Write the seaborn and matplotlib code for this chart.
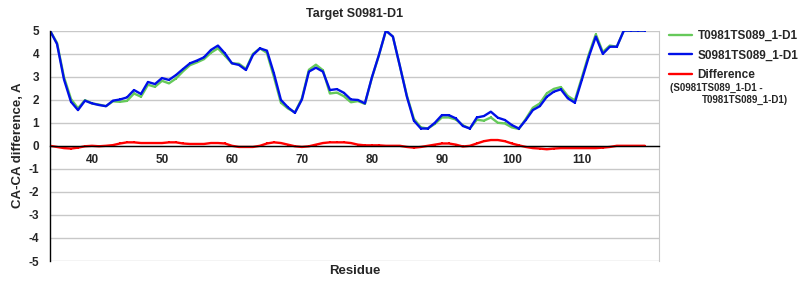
import numpy as np
import pandas as pd
import seaborn as sns
import matplotlib
matplotlib.use("Agg")
import matplotlib.pyplot as plt
from matplotlib.lines import Line2D

residues = list(range(34, 120))

s_model = [5.0, 4.42, 2.88, 1.91, 1.55, 1.96, 1.84, 1.77, 1.72, 1.96,
           2.01, 2.10, 2.42, 2.25, 2.77, 2.68, 2.94, 2.86, 3.07, 3.33,
           3.58, 3.70, 3.84, 4.16, 4.35, 4.01, 3.58, 3.51, 3.29, 3.94,
           4.23, 4.13, 3.14, 1.99, 1.67, 1.43, 2.01, 3.22, 3.39, 3.22,
           2.42, 2.46, 2.30, 2.01, 1.99, 1.84, 2.97, 3.94, 5.0, 4.74,
           3.46, 2.13, 1.09, 0.75, 0.75, 1.00, 1.33, 1.33, 1.19, 0.86,
           0.75, 1.23, 1.29, 1.48, 1.22, 1.12, 0.90, 0.75, 1.12, 1.55,
           1.72, 2.13, 2.35, 2.45, 2.06, 1.87, 2.86, 3.87, 4.74, 3.99,
           4.30, 4.30, 5.0, 5.0, 5.0, 5.0]

t_model = [5.0, 4.47, 2.98, 2.03, 1.63, 1.98, 1.84, 1.79, 1.72, 1.93,
           1.91, 1.95, 2.27, 2.13, 2.65, 2.56, 2.82, 2.71, 2.92, 3.23,
           3.50, 3.62, 3.76, 4.04, 4.23, 3.91, 3.58, 3.56, 3.34, 3.99,
           4.23, 4.03, 2.99, 1.87, 1.62, 1.45, 2.06, 3.30, 3.52, 3.28,
           2.27, 2.31, 2.15, 1.89, 1.94, 1.82, 2.95, 3.92, 5.0, 4.74,
           3.46, 2.18, 1.17, 0.80, 0.75, 0.95, 1.23, 1.23, 1.14, 0.89,
           0.75, 1.13, 1.09, 1.23, 1.00, 0.97, 0.80, 0.73, 1.17, 1.65,
           1.84, 2.28, 2.47, 2.55, 2.16, 1.97, 2.96, 3.97, 4.84, 4.07,
           4.35, 4.30, 5.0, 5.0, 5.0, 5.0]

difference = [0.0, -0.05, -0.10, -0.12, -0.08, -0.02, 0.0, -0.02, 0.0, 0.03,
              0.10, 0.15, 0.15, 0.12, 0.12, 0.12, 0.12, 0.15, 0.15, 0.10,
              0.08, 0.08, 0.08, 0.12, 0.12, 0.10, 0.0, -0.05, -0.05, -0.05,
              0.0, 0.10, 0.15, 0.12, 0.05, -0.02, -0.05, -0.02, 0.05, 0.12,
              0.15, 0.15, 0.15, 0.12, 0.05, 0.02, 0.02, 0.02, 0.0, 0.0,
              0.0, -0.05, -0.08, -0.05, 0.0, 0.05, 0.10, 0.10, 0.05, -0.03,
              0.0, 0.10, 0.20, 0.25, 0.25, 0.20, 0.10, 0.02, -0.05, -0.10,
              -0.12, -0.15, -0.12, -0.10, -0.10, -0.10, -0.10, -0.10, -0.10, -0.08,
              -0.05, 0.0, 0.0, 0.0, 0.0, 0.0]

x_ticks = [40, 50, 60, 70, 80, 90, 100, 110]
y_ticks = [-5, -4, -3, -2, -1, 0, 1, 2, 3, 4, 5]

label_t = "T0981TS089_1-D1"
label_s = "S0981TS089_1-D1"
label_d = "Difference"

c_green = "#66c95a"
c_blue = "#0010e8"
c_red = "#ff0000"

sns.set_style("white")
plt.rcParams['font.family'] = ['Liberation Sans', 'DejaVu Sans']
plt.rcParams['axes.unicode_minus'] = False

fig = plt.figure(figsize=(8, 3), dpi=100)
ax = fig.add_axes([0.0625, 0.13, 0.761, 0.768])

df = pd.DataFrame({"residue": residues, "t": t_model, "s": s_model, "d": difference})

kw = dict(marker='s', markersize=1.6, markeredgewidth=0, linewidth=1.7, ax=ax, legend=False)
sns.lineplot(data=df, x="residue", y="t", color=c_green, **kw)
sns.lineplot(data=df, x="residue", y="s", color=c_blue, **kw)
sns.lineplot(data=df, x="residue", y="d", color=c_red, **kw)

ax.set_xlim(34, 121)
ax.set_ylim(-5, 5)
ax.set_yticks(y_ticks)
ax.set_xticks(x_ticks)
ax.yaxis.grid(True, color="#c8c8c8", linewidth=1)
ax.xaxis.grid(False)
ax.set_axisbelow(True)

ax.spines['bottom'].set_position(('data', 0))
ax.spines['bottom'].set_color('black')
ax.spines['bottom'].set_linewidth(1)
ax.spines['left'].set_color('black')
ax.spines['left'].set_linewidth(1)
ax.spines['top'].set_visible(False)
ax.spines['right'].set_color('#c8c8c8')

ax.tick_params(axis='x', direction='out', length=4, color='#c8c8c8', pad=2,
               labelsize=8.5)
ax.tick_params(axis='y', length=0, pad=8, labelsize=8.5)
for lab in ax.get_xticklabels() + ax.get_yticklabels():
    lab.set_fontweight('bold')

ax.set_xlabel("")
ax.set_ylabel("")
fig.text(0.443, 0.098, "Residue", ha='center', va='center', fontsize=9.5, fontweight='bold')
fig.text(0.022, 0.515, "CA-CA difference, A", ha='center', va='center', rotation=90,
         fontsize=9.5, fontweight='bold')
fig.text(0.443, 0.955, "Target S0981-D1", ha='center', va='center', fontsize=9, fontweight='bold')

handles = [Line2D([], [], color=c_green, lw=1.7, marker='s', ms=1.6, mew=0),
           Line2D([], [], color=c_blue, lw=1.7, marker='s', ms=1.6, mew=0),
           Line2D([], [], color=c_red, lw=1.7, marker='s', ms=1.6, mew=0)]
fig.legend(handles, [label_t, label_s, label_d], loc='upper left',
           bbox_to_anchor=(0.836, 0.9), frameon=False,
           prop={'weight': 'bold', 'size': 8.5}, handlelength=2.0,
           handletextpad=0.45, labelspacing=0.62, borderaxespad=0, borderpad=0)
fig.text(0.8375, 0.706, "(S0981TS089_1-D1 -", fontsize=7, fontweight='bold', va='center')
fig.text(0.8775, 0.668, "T0981TS089_1-D1)", fontsize=7, fontweight='bold', va='center')

fig.savefig("out.png", dpi=100)
